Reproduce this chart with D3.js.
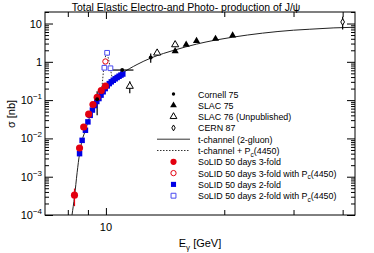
<!DOCTYPE html>
<html>
<head>
<meta charset="utf-8">
<script src="https://cdn.jsdelivr.net/npm/d3@7"></script>
<style>
  body { margin: 0; background: #fff; }
  svg { font-family: "Liberation Sans", Arial, sans-serif; }
</style>
</head>
<body>
<svg id="chart" width="374" height="253"></svg>
<script>
// Data (E in GeV, sigma in nb)
const cornellE = [9.5, 11.0, 13.0];
const cornellSigma = [0.105, 0.61, 1.3];
const cornellErr = [0.065, 0.03, 0.35];
const cornellXErr = [0, 0.75, 0];

const slac75E = [15.0, 16.0, 17.0, 19.0, 21.0];
const slac75Sigma = [1.9, 2.8, 3.5, 4.0, 4.9];

const slac76E = [11.5, 13.5, 15.0];
const slac76Sigma = [0.23, 1.7, 2.8];
const slac76Err = [0.08, 0.1, 0.2];

const cernE = [40.0];
const cernSigma = [11.0];
const cernErr = [4.0];

// t-channel (2-gluon) model curve
const tE = [8.2, 8.32, 8.45, 8.57, 8.7, 8.87, 9.0, 9.25, 9.5, 9.75, 10.0, 10.5, 11.0, 12.0, 13.0, 14.0, 15.0, 17.0, 19.0, 21.0, 25.0, 30.0, 33.0, 38.0, 43.0];
const tSigma = [0.0001, 0.0003, 0.0013, 0.004, 0.0089, 0.0163, 0.027, 0.052, 0.094, 0.15, 0.21, 0.34, 0.5, 0.85, 1.25, 1.65, 2.05, 2.9, 3.7, 4.4, 5.6, 6.7, 7.1, 7.7, 8.0];

// t-channel + Pc(4450)
const pcE = [9.5, 9.65, 9.78, 9.87, 9.95, 10.05, 10.15, 10.27, 10.4, 10.5];
const pcSigma = [0.094, 0.125, 0.25, 0.65, 1.2, 1.7, 1.2, 0.65, 0.36, 0.34];

// SoLID projections
const red3E = [8.32, 8.57, 8.78, 9.04, 9.27, 9.5, 9.73, 9.97];
const red3Sigma = [0.00033, 0.0056, 0.0198, 0.043, 0.077, 0.118, 0.177, 0.233];
const red3Err = [0.00016, 0.0005, 0.001, 0.002, 0.003, 0.004, 0.005, 0.006];

const red3PcE = [9.97];
const red3PcSigma = [1.02];

const blue2E = [8.57, 8.7, 8.87, 9.0, 9.12, 9.24, 9.36, 9.48, 9.6, 9.72, 9.84, 9.96, 10.08, 10.2, 10.32, 10.44, 10.56, 10.68, 10.8, 10.92, 11.04];
const blue2Sigma = [0.004, 0.0089, 0.0163, 0.027, 0.04, 0.055, 0.072, 0.092, 0.11, 0.135, 0.165, 0.2, 0.235, 0.27, 0.3, 0.33, 0.36, 0.39, 0.42, 0.45, 0.48];

const blue2PcE = [9.91, 10.07, 10.27];
const blue2PcSigma = [0.7, 1.72, 0.68];

const xMajor = [10];
const xMinor = [8, 9, 20, 30, 40];
const yMajor = [1e-4, 1e-3, 1e-2, 1e-1, 1, 10];
const yLabels = [["10", "\u22124"], ["10", "\u22123"], ["10", "\u22122"], ["10", "\u22121"], ["1", ""], ["10", ""]];

const legendLabels = ["Cornell 75", "SLAC 75", "SLAC 76 (Unpublished)", "CERN 87", "t-channel (2-gluon)", "t-channel + P|c|(4450)",
  "SoLID 50 days 3-fold", "SoLID 50 days 3-fold with P|c|(4450)", "SoLID 50 days 2-fold", "SoLID 50 days 2-fold with P|c|(4450)"];

const margin = { left: 45, right: 355, top: 12, bottom: 215 };
const svg = d3.select('#chart');

const x = d3.scaleLog().domain([7, 43]).range([margin.left, margin.right]);
const y = d3.scaleLog().domain([1e-4, 20]).range([margin.bottom, margin.top]);

const RED = '#e3000f', BLUE = '#0000e6', OPENBLUE = '#4a4af0';

// y minor ticks
const yMinor = [];
yMajor.forEach(v => { for (let k = 2; k <= 9; k++) if (v * k <= 20) yMinor.push(v * k); });

// Axes (ticks point inward, ROOT style)
function addAxis(axis, tr) {
  const g = svg.append('g').attr('transform', tr).call(axis);
  g.select('.domain').remove();
  g.selectAll('text').remove();
  g.selectAll('line').attr('stroke', '#000').attr('stroke-width', 1);
}
addAxis(d3.axisLeft(y).tickValues(yMajor).tickSize(-8), `translate(${margin.left},0)`);
addAxis(d3.axisLeft(y).tickValues(yMinor).tickSize(-4), `translate(${margin.left},0)`);
addAxis(d3.axisRight(y).tickValues(yMajor).tickSize(-8), `translate(${margin.right},0)`);
addAxis(d3.axisRight(y).tickValues(yMinor).tickSize(-4), `translate(${margin.right},0)`);
addAxis(d3.axisBottom(x).tickValues(xMajor).tickSize(-7), `translate(0,${margin.bottom})`);
addAxis(d3.axisBottom(x).tickValues(xMinor).tickSize(-5), `translate(0,${margin.bottom})`);
addAxis(d3.axisTop(x).tickValues(xMajor).tickSize(-7), `translate(0,${margin.top})`);
addAxis(d3.axisTop(x).tickValues(xMinor).tickSize(-5), `translate(0,${margin.top})`);

// frame
svg.append('rect')
  .attr('x', margin.left).attr('y', margin.top)
  .attr('width', margin.right - margin.left).attr('height', margin.bottom - margin.top)
  .attr('fill', 'none').attr('stroke', '#000').attr('stroke-width', 1);

// y tick labels
yMajor.forEach((v, i) => {
  const t = svg.append('text')
    .attr('x', 42).attr('y', y(v) + 4)
    .attr('text-anchor', 'end').attr('font-size', 11);
  t.append('tspan').text(yLabels[i][0]);
  if (yLabels[i][1]) t.append('tspan').attr('dy', -5).attr('font-size', 8).text(yLabels[i][1]);
});

// x tick label
svg.append('text').attr('x', x(10)).attr('y', 231)
  .attr('text-anchor', 'middle').attr('font-size', 11).text('10');

// titles
svg.append('text').attr('x', 186).attr('y', 11)
  .attr('text-anchor', 'middle').attr('font-size', 10.5)
  .text('Total Elastic Electro-and Photo- production of J/\u03c8');

const xt = svg.append('text').attr('x', 200).attr('y', 247)
  .attr('text-anchor', 'middle').attr('font-size', 11);
xt.append('tspan').text('E');
xt.append('tspan').attr('dy', 3).attr('font-size', 8).text('\u03b3');
xt.append('tspan').attr('dy', -3).text(' [GeV]');

svg.append('text').attr('transform', 'translate(15,114) rotate(-90)')
  .attr('text-anchor', 'middle').attr('font-size', 11).text('\u03c3 [nb]');

// clip for curves
svg.append('clipPath').attr('id', 'plotclip').append('rect')
  .attr('x', margin.left).attr('y', margin.top)
  .attr('width', margin.right - margin.left).attr('height', margin.bottom - margin.top);

const line = d3.line().x(d => x(d[0])).y(d => y(d[1])).curve(d3.curveMonotoneX);
const plot = svg.append('g').attr('clip-path', 'url(#plotclip)');

plot.append('path').datum(d3.zip(pcE, pcSigma)).attr('d', line)
  .attr('fill', 'none').attr('stroke', '#333').attr('stroke-width', 1).attr('stroke-dasharray', '1.5,1.5');
plot.append('path').datum(d3.zip(tE, tSigma)).attr('d', line)
  .attr('fill', 'none').attr('stroke', '#222').attr('stroke-width', 1);

// error bars
function errBars(E, S, err, color, xerr) {
  E.forEach((e, i) => {
    if (err && err[i]) {
      plot.append('line').attr('x1', x(e)).attr('x2', x(e))
        .attr('y1', y(S[i] + err[i])).attr('y2', y(Math.max(S[i] - err[i], 1e-6)))
        .attr('stroke', color).attr('stroke-width', 1.2);
    }
    if (xerr && xerr[i]) {
      plot.append('line').attr('x1', x(e - xerr[i])).attr('x2', x(e + xerr[i]))
        .attr('y1', y(S[i])).attr('y2', y(S[i]))
        .attr('stroke', color).attr('stroke-width', 1.2);
    }
  });
}

function markers(E, S, type, size, fill, stroke) {
  plot.selectAll(null).data(d3.zip(E, S)).enter().append('path')
    .attr('transform', d => `translate(${x(d[0])},${y(d[1])})`)
    .attr('d', d3.symbol().type(type).size(size))
    .attr('fill', fill).attr('stroke', stroke || 'none').attr('stroke-width', 1);
}

errBars(cornellE, cornellSigma, cornellErr, '#000', cornellXErr);
errBars(slac76E, slac76Sigma, slac76Err, '#000');
errBars(cernE, cernSigma, cernErr, '#000');
errBars(red3E, red3Sigma, red3Err, RED);

markers(blue2E, blue2Sigma, d3.symbolSquare, 30, BLUE);
markers(red3E, red3Sigma, d3.symbolCircle, 40, RED);
markers(blue2PcE, blue2PcSigma, d3.symbolSquare, 22, '#fff', OPENBLUE);
markers(red3PcE, red3PcSigma, d3.symbolCircle, 22, '#fff', RED);
markers(cornellE, cornellSigma, d3.symbolCircle, 12, '#000');
markers(slac75E, slac75Sigma, d3.symbolTriangle, 22, '#000');
markers(slac76E, slac76Sigma, d3.symbolTriangle, 22, '#fff', '#000');
markers(cernE, cernSigma, d3.symbolDiamond, 12, '#fff', '#000');

// legend
const legendStyles = [
  { sym: d3.symbolCircle, size: 9, fill: '#000' },
  { sym: d3.symbolTriangle, size: 20, fill: '#000' },
  { sym: d3.symbolTriangle, size: 20, fill: '#fff', stroke: '#000' },
  { sym: d3.symbolDiamond, size: 10, fill: '#fff', stroke: '#000' },
  { line: 'solid' },
  { line: 'dotted' },
  { sym: d3.symbolCircle, size: 30, fill: RED },
  { sym: d3.symbolCircle, size: 22, fill: '#fff', stroke: RED },
  { sym: d3.symbolSquare, size: 26, fill: BLUE },
  { sym: d3.symbolSquare, size: 24, fill: '#fff', stroke: OPENBLUE }
];

const legend = svg.append('g');
legendLabels.forEach((lab, i) => {
  const ly = 94 + i * 11.3;
  const st = legendStyles[i];
  if (st.line) {
    legend.append('line').attr('x1', 157).attr('x2', 190).attr('y1', ly).attr('y2', ly)
      .attr('stroke', '#333').attr('stroke-width', 1)
      .attr('stroke-dasharray', st.line === 'dotted' ? '1.5,1.5' : null);
  } else {
    legend.append('path').attr('transform', `translate(173.5,${ly})`)
      .attr('d', d3.symbol().type(st.sym).size(st.size))
      .attr('fill', st.fill).attr('stroke', st.stroke || 'none').attr('stroke-width', 1);
  }
  const t = legend.append('text').attr('x', 198).attr('y', ly + 3.5).attr('font-size', 8.9);
  const parts = lab.split('|');
  t.append('tspan').text(parts[0]);
  if (parts.length > 1) {
    t.append('tspan').attr('dy', 2.5).attr('font-size', 6.5).text(parts[1]);
    t.append('tspan').attr('dy', -2.5).text(parts[2]);
  }
});
</script>
</body>
</html>
